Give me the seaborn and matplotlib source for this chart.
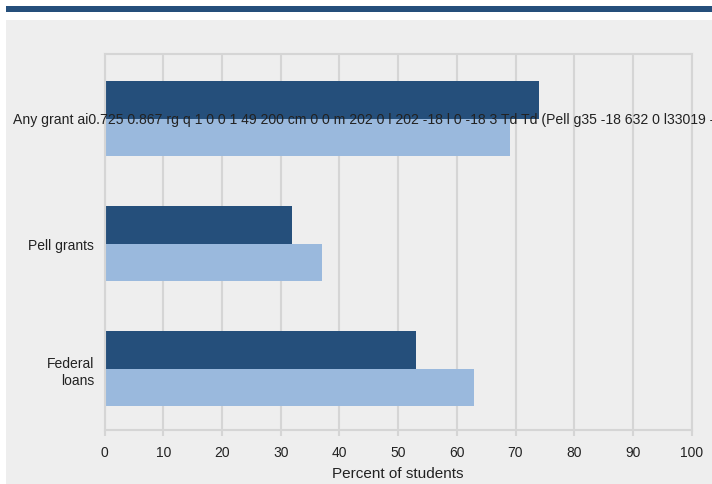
import numpy as np
import pandas as pd
import matplotlib
matplotlib.use("Agg")
import matplotlib.pyplot as plt
import matplotlib.transforms as mtransforms
from matplotlib.patches import Rectangle
import seaborn as sns

sns.set_theme(style="white")
plt.rcParams['font.family'] = ['Liberation Sans', 'DejaVu Sans']

categories = ["Any grant", "Pell grants", "Federal loans"]
tick_labels = ["", "Pell grants", "Federal\nloans"]
first_label = ("Any grant ai0.725 0.867 rg q 1 0 0 1 49 200 cm 0 0 m 202 0 l "
               "202 -18 l 0 -18 3 Td Td (Pell g35 -18 632 0 l33019 -")
groups = ["Series 1", "Series 2"]
series1 = [74, 32, 53]
series2 = [69, 37, 63]

df = pd.DataFrame({
    "category": categories * 2,
    "group": [groups[0]] * 3 + [groups[1]] * 3,
    "value": series1 + series2,
})

dark = "#254f7b"
light = "#9ab9dd"
panel = "#eeeeee"
gridc = "#d5d5d5"

fig = plt.figure(figsize=(7.12, 4.85), dpi=100)
fig.patch.set_facecolor("white")
# gray panel and top band
fig.add_artist(Rectangle((6/712, -0.05), 1, 1.05 - 21/485, transform=fig.transFigure,
                         facecolor=panel, edgecolor="none", zorder=0))
fig.add_artist(Rectangle((6/712, 1 - 12.5/485), 1, 5.5/485, transform=fig.transFigure,
                         facecolor=dark, edgecolor="none", zorder=0))

ax = fig.add_axes([104.6/712, 1 - 431/485, (691.6 - 104.6)/712, (431 - 55)/485])
ax.set_facecolor(panel)

sns.barplot(data=df, y="category", x="value", hue="group", orient="h",
            palette=[dark, light], width=0.6, saturation=1, legend=False,
            linewidth=0, edgecolor="none", ax=ax)

ax.set_xlim(0, 100)
ax.set_ylim(2.488, -0.516)
ax.set_xticks(np.arange(0, 101, 10))
ax.xaxis.grid(True, color=gridc, linewidth=1.5)
ax.set_axisbelow(True)
for s in ax.spines.values():
    s.set_color(gridc)
    s.set_linewidth(1.5)

ax.tick_params(axis="x", bottom=True, length=4.5, width=1.5, color=gridc,
               labelsize=10, labelcolor="#222222", pad=6)
ax.tick_params(axis="y", left=False, labelsize=10, labelcolor="#222222", pad=1.5)
ax.set_yticks(range(3))
ax.set_yticklabels(tick_labels)
ax.set_ylabel("")
ax.set_xlabel("Percent of students", fontsize=11, color="#222222", labelpad=5)

trans = mtransforms.blended_transform_factory(fig.transFigure, ax.transData)
ax.text(13/712, 0, first_label, transform=trans, ha="left", va="center",
        fontsize=10.1, color="#222222", clip_on=False, zorder=10)

fig.savefig("out.png", dpi=100, facecolor=fig.get_facecolor())
